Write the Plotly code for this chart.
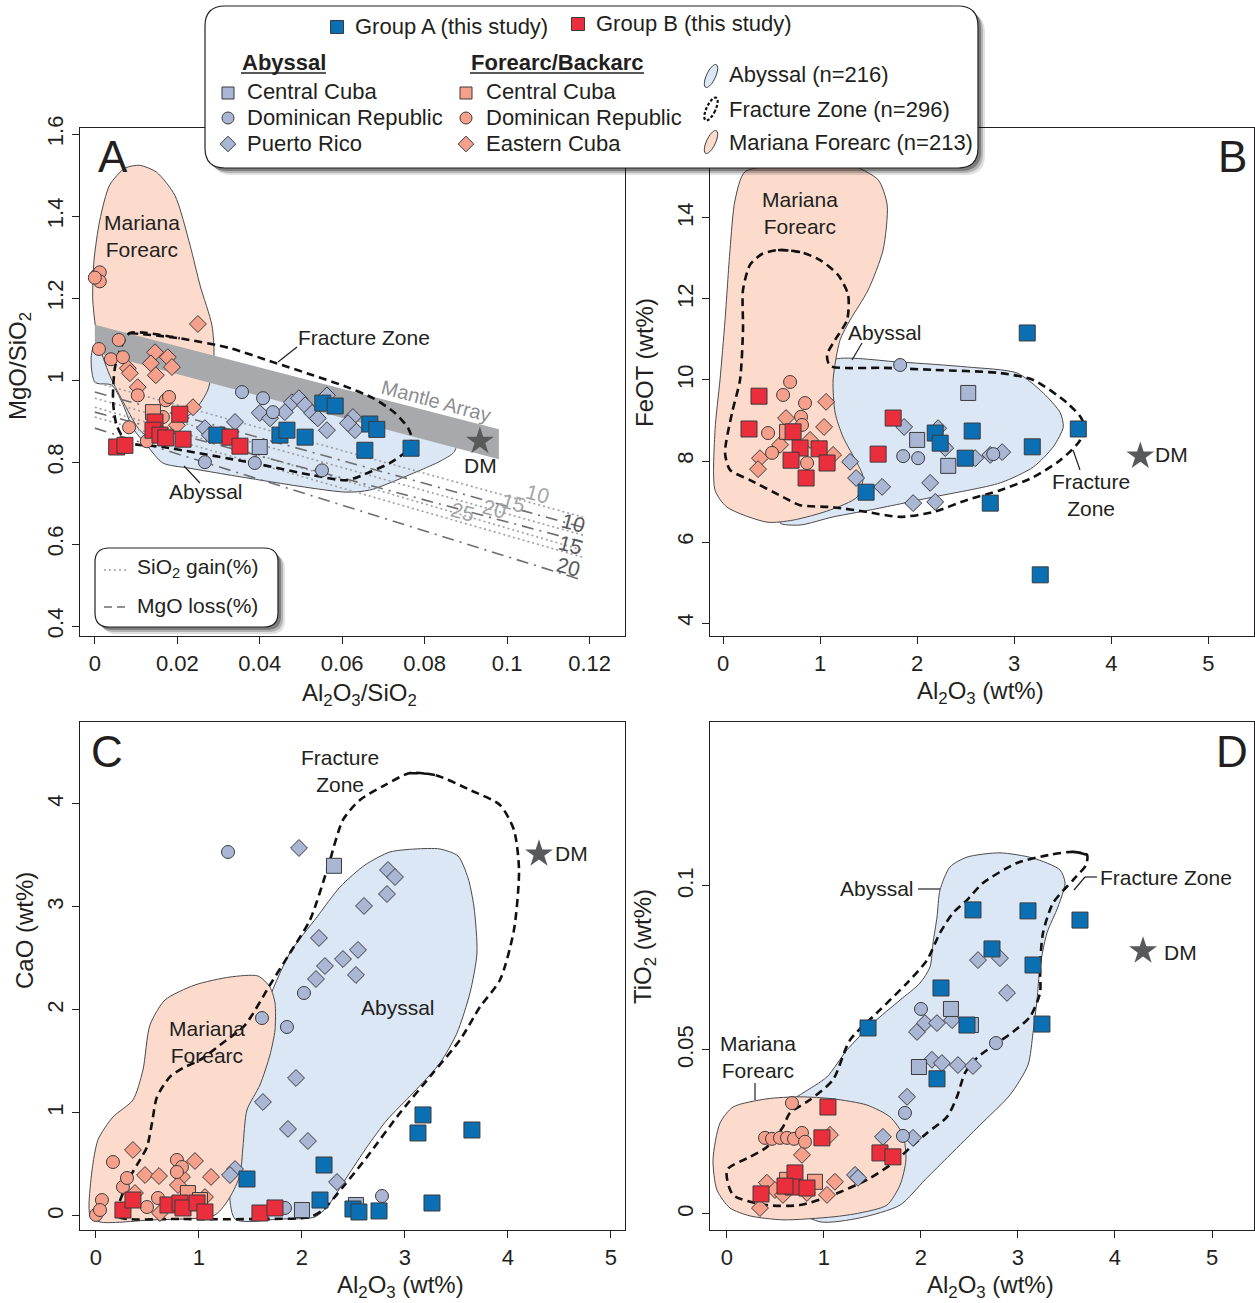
import math
import plotly.graph_objects as go

# ======================= DATA =======================
# ---- Panel A : MgO/SiO2 vs Al2O3/SiO2 ----
gaA_x = [0.0296, 0.0449, 0.0466, 0.0510, 0.0553, 0.0583, 0.0667, 0.0684, 0.0655, 0.0767]
gaA_y = [0.866, 0.866, 0.878, 0.861, 0.944, 0.937, 0.893, 0.880, 0.829, 0.834]
gbA_x = [0.0053, 0.0073, 0.0206, 0.0146, 0.0141, 0.0158, 0.0172, 0.0214, 0.0328, 0.0352]
gbA_y = [0.837, 0.841, 0.917, 0.898, 0.878, 0.866, 0.859, 0.856, 0.861, 0.839]
abccA_x = [0.0400]
abccA_y = [0.837]
abdrA_x = [0.0357, 0.0408, 0.0267, 0.0388, 0.0551, 0.0432]
abdrA_y = [0.971, 0.956, 0.800, 0.798, 0.780, 0.922]
abprA_x = [0.0267, 0.0340, 0.0400, 0.0425, 0.0461, 0.0478, 0.0495, 0.0510, 0.0527, 0.0541,
           0.0563, 0.0563, 0.0626, 0.0631, 0.0614, 0.0279]
abprA_y = [0.883, 0.898, 0.920, 0.907, 0.922, 0.946, 0.956, 0.939, 0.920, 0.907,
           0.878, 0.963, 0.910, 0.878, 0.895, 0.866]
faccA_x = [0.0141]
faccA_y = [0.922]
fadrA_x = [0.0005, 0.0012, 0.0012, 0.0000, 0.0010, 0.0058, 0.0039, 0.0068, 0.0104, 0.0172,
           0.0180, 0.0083, 0.0126, 0.0165]
fadrA_y = [1.256, 1.263, 1.241, 1.250, 1.076, 1.098, 1.051, 1.056, 0.963, 0.951,
           0.959, 0.885, 0.851, 0.910]
faecA_x = [0.0250, 0.0146, 0.0177, 0.0136, 0.0187, 0.0148, 0.0080, 0.0085, 0.0104, 0.0238, 0.0199]
faecA_y = [1.137, 1.068, 1.056, 1.041, 1.032, 1.012, 1.029, 1.017, 0.983, 0.934, 0.890]
dmA_x, dmA_y = [0.0934], [0.851]

mantle_x = [0.0, 0.098, 0.098, 0.0]
mantle_y = [1.135, 0.880, 0.807, 1.068]
trend_x = [0.0, 0.1184]
sio2_gain_y0 = [0.995, 0.956, 0.934, 0.910]
sio2_gain_y1 = [0.666, 0.622, 0.585, 0.568]
mgo_loss_y0 = [0.971, 0.922, 0.883]
mgo_loss_y1 = [0.641, 0.605, 0.512]

abyA_x = [0.0, 0.0837, 0.0879, 0.0871, 0.0837, 0.0784, 0.0667, 0.0607, 0.0231, 0.0165,
          0.0126, 0.0092, 0.0066, 0.0041, 0.0]
abyA_y = [1.085, 0.866, 0.851, 0.824, 0.802, 0.778, 0.732, 0.727, 0.785, 0.798,
          0.841, 0.883, 0.946, 0.988, 0.995]
mfA_x = [0.0109, 0.0150, 0.0194, 0.0231, 0.0255, 0.0284, 0.0289, 0.0274, 0.0243, 0.0194,
         0.0146, 0.0109, 0.0073, 0.0036, 0.0007, -0.0005, -0.0002, 0.0012, 0.0036, 0.0073]
mfA_y = [1.524, 1.507, 1.451, 1.329, 1.232, 1.134, 1.061, 0.976, 0.927, 0.890,
         0.854, 0.878, 0.939, 1.012, 1.098, 1.195, 1.293, 1.390, 1.476, 1.517]
fzA_x = [0.0085, 0.0206, 0.0328, 0.0432, 0.0529, 0.0612, 0.0675, 0.0728, 0.0760, 0.0769,
         0.0752, 0.0716, 0.0667, 0.0612, 0.0529, 0.0383, 0.0165, 0.0078, 0.0053, 0.0044,
         0.0049, 0.0066]
fzA_y = [1.115, 1.102, 1.078, 1.044, 1.012, 0.983, 0.956, 0.920, 0.883, 0.854,
         0.824, 0.798, 0.776, 0.756, 0.768, 0.798, 0.837, 0.849, 0.890, 0.951,
         1.032, 1.085]

# ---- Panel B : FeOT vs Al2O3 ----
gaB_x = [3.134, 3.660, 3.186, 2.567, 2.186, 2.237, 2.495, 1.474, 2.753, 3.268]
gaB_y = [11.16, 8.79, 8.35, 8.74, 8.69, 8.44, 8.07, 7.23, 6.96, 5.19]
gbB_x = [0.371, 0.268, 0.722, 0.794, 0.990, 0.701, 1.072, 0.856, 1.753, 1.598]
gbB_y = [9.60, 8.79, 8.72, 8.32, 8.30, 8.02, 7.95, 7.58, 9.06, 8.17]
abccB_x = [2.526, 2.000, 2.320]
abccB_y = [9.68, 8.52, 7.88]
abdrB_x = [1.825, 1.856, 2.010, 2.784]
abdrB_y = [10.37, 8.12, 8.07, 8.17]
abprB_x = [1.866, 2.216, 1.309, 1.371, 1.639, 2.134, 1.959, 2.186, 2.598, 2.876, 2.289, 2.753]
abprB_y = [8.84, 8.81, 7.98, 7.58, 7.36, 7.46, 6.96, 6.99, 8.07, 8.22, 8.32, 8.15]
faccB_x = [0.660]
faccB_y = [8.72]
fadrB_x = [0.691, 0.619, 0.845, 0.804, 0.814, 0.464, 0.505, 0.866]
fadrB_y = [9.95, 9.63, 9.43, 9.09, 8.89, 8.69, 8.20, 7.95]
faecB_x = [1.062, 1.041, 0.649, 0.588, 0.381, 0.361, 1.134, 0.897]
faecB_y = [9.46, 8.84, 9.06, 8.40, 8.07, 7.80, 8.15, 8.52]
dmB_x, dmB_y = [4.299], [8.12]

abyB_x = [1.134, 1.825, 2.515, 3.031, 3.299, 3.474, 3.505, 3.402, 3.196, 2.856,
          2.165, 1.515, 1.134, 0.794, 0.588, 0.691, 1.000, 1.103, 1.082]
abyB_y = [10.49, 10.44, 10.32, 10.17, 9.68, 9.19, 8.84, 8.35, 7.85, 7.46,
          7.11, 6.79, 6.62, 6.42, 6.47, 6.91, 7.78, 9.01, 10.0]
mfB_x = [0.227, 0.691, 1.309, 1.598, 1.691, 1.649, 1.495, 1.309, 1.206, 1.134,
         1.155, 1.237, 1.381, 1.443, 1.381, 1.103, 0.722, 0.454, 0.041, -0.082,
         -0.082, -0.031, 0.021, 0.072, 0.124]
mfB_y = [15.14, 15.31, 15.31, 14.94, 14.32, 13.21, 12.22, 11.48, 10.99, 10.0,
         9.19, 8.59, 7.95, 7.60, 7.11, 6.79, 6.54, 6.49, 6.86, 7.28,
         8.77, 10.0, 11.48, 13.21, 14.44]
fzB_x = [0.567, 0.794, 1.000, 1.186, 1.289, 1.278, 1.155, 1.072, 1.103, 1.649,
         2.165, 2.856, 3.196, 3.546, 3.701, 3.680, 3.474, 3.196, 2.856, 2.515,
         2.165, 1.825, 1.485, 1.134, 0.794, 0.619, 0.278, 0.072, 0.021, 0.093,
         0.175, 0.206, 0.206, 0.278, 0.402]
fzB_y = [13.21, 13.16, 12.96, 12.59, 12.10, 11.48, 10.99, 10.62, 10.35, 10.30,
         10.25, 10.17, 10.0, 9.43, 9.01, 8.52, 8.02, 7.60, 7.28, 7.04,
         6.74, 6.62, 6.74, 6.86, 6.91, 7.11, 7.53, 7.78, 8.20, 9.19,
         10.0, 11.23, 12.22, 12.84, 13.11]

# ---- Panel C : CaO vs Al2O3 ----
gaC_x = [1.466, 2.214, 2.175, 2.495, 2.553, 2.748, 3.126, 3.175, 3.262, 3.650]
gaC_y = [0.359, 0.495, 0.155, 0.068, 0.039, 0.049, 0.806, 0.981, 0.126, 0.835]
gbC_x = [0.262, 0.359, 0.699, 0.816, 0.845, 0.981, 1.058, 1.592, 1.738]
gbC_y = [0.058, 0.155, 0.107, 0.126, 0.078, 0.126, 0.039, 0.029, 0.078]
abccC_x = [2.311, 2.000, 2.524]
abccC_y = [3.40, 0.058, 0.107]
abdrC_x = [1.282, 2.019, 1.612, 1.854, 2.777, 1.835]
abdrC_y = [3.534, 2.165, 1.922, 1.835, 0.194, 0.078]
abprC_x = [1.971, 2.835, 2.903, 2.825, 2.602, 2.165, 2.544, 2.398, 2.223, 2.136,
           2.524, 1.942, 1.621, 1.864, 2.058, 1.350, 1.301, 2.340]
abprC_y = [3.573, 3.359, 3.291, 3.126, 3.010, 2.699, 2.583, 2.495, 2.427, 2.301,
           2.340, 1.340, 1.107, 0.845, 0.728, 0.456, 0.398, 0.330]
faccC_x = [0.893, 1.010]
faccC_y = [0.223, 0.155]
fadrC_x = [0.165, 0.058, 0.000, 0.039, 0.262, 0.301, 0.786, 0.835, 0.786, 0.495, 0.602]
fadrC_y = [0.524, 0.155, 0.010, 0.058, 0.282, 0.369, 0.544, 0.476, 0.427, 0.087, 0.175]
faecC_x = [0.359, 0.476, 0.612, 0.835, 0.961, 1.117, 0.796, 1.058, 0.621, 0.379]
faecC_y = [0.641, 0.398, 0.388, 0.379, 0.534, 0.379, 0.301, 0.184, 0.029, 0.223]
dmC_x, dmC_y = [4.301], [3.515]

abyC_x = [2.369, 2.612, 2.854, 3.097, 3.340, 3.515, 3.612, 3.670, 3.699, 3.631,
          3.505, 3.340, 3.078, 2.825, 2.631, 2.437, 2.243, 2.126, 1.786, 1.350,
          1.301, 1.447, 1.641, 1.883, 2.146]
abyC_y = [3.194, 3.408, 3.534, 3.563, 3.563, 3.495, 3.282, 3.000, 2.553, 2.165,
          1.777, 1.485, 1.194, 0.932, 0.670, 0.379, 0.087, -0.010, -0.029, -0.029,
          0.544, 1.126, 2.000, 2.553, 2.903]
mfC_x = [-0.058, -0.049, 0.019, 0.165, 0.359, 0.456, 0.524, 0.670, 0.961, 1.301,
         1.573, 1.689, 1.738, 1.738, 1.689, 1.592, 1.466, 1.427, 1.398, 1.301,
         1.155, 0.524, 0.039]
mfC_y = [0.010, 0.350, 0.738, 0.961, 1.126, 1.417, 1.854, 2.097, 2.243, 2.320,
         2.330, 2.223, 2.068, 1.806, 1.563, 1.272, 1.029, 0.670, 0.398, 0.184,
         0.010, -0.039, -0.058]
fzC_x = [3.049, 3.291, 3.631, 3.922, 4.058, 4.107, 4.058, 3.922, 3.728, 3.534,
         3.272, 2.951, 2.631, 2.398, 2.204, 2.078, 1.592, 0.816, 0.204, 0.262,
         0.330, 0.427, 0.495, 0.544, 0.592, 0.718, 0.845, 1.010, 1.204, 1.447,
         1.689, 1.883, 2.078, 2.252, 2.398, 2.563, 2.806]
fzC_y = [4.301, 4.282, 4.136, 3.990, 3.748, 3.359, 2.777, 2.291, 2.029, 1.709,
         1.388, 1.000, 0.573, 0.282, 0.058, -0.010, -0.029, -0.029, 0.000, 0.223,
         0.379, 0.544, 0.670, 0.903, 1.155, 1.350, 1.437, 1.515, 1.660, 1.854,
         2.243, 2.553, 2.874, 3.388, 3.845, 4.039, 4.184]

# ---- Panel D : TiO2 vs Al2O3 ----
gaD_x = [2.536, 3.103, 3.639, 2.732, 3.155, 2.206, 1.454, 2.474, 3.247, 2.165]
gaD_y = [0.0927, 0.0924, 0.0896, 0.0808, 0.0759, 0.0689, 0.0567, 0.0576, 0.0579, 0.0412]
gbD_x = [1.041, 0.979, 1.577, 1.711, 0.701, 0.680, 0.825, 0.351, 0.598]
gbD_y = [0.0326, 0.0232, 0.0186, 0.0174, 0.0125, 0.0082, 0.0079, 0.0061, 0.0085]
abccD_x = [2.309, 1.979, 2.515]
abccD_y = [0.0625, 0.0448, 0.0576]
abdrD_x = [2.000, 2.773, 1.835, 1.814]
abdrD_y = [0.0625, 0.0521, 0.0308, 0.0238]
abprD_x = [2.588, 2.814, 2.887, 1.959, 2.041, 2.165, 2.320, 2.113, 2.216, 2.381,
           2.536, 1.856, 1.608, 1.918, 1.320, 1.351]
abprD_y = [0.0774, 0.0780, 0.0674, 0.0555, 0.0582, 0.0582, 0.0591, 0.0470, 0.0460, 0.0454,
           0.0451, 0.0357, 0.0235, 0.0232, 0.0119, 0.0110]
faccD_x = [0.907, 0.619]
faccD_y = [0.0098, 0.0104]
fadrD_x = [0.670, 0.392, 0.464, 0.546, 0.619, 0.691, 0.773, 0.804]
fadrD_y = [0.0338, 0.0232, 0.0229, 0.0232, 0.0232, 0.0229, 0.0247, 0.0220]
faecD_x = [1.062, 0.773, 0.412, 0.495, 0.577, 0.340, 0.825, 1.031, 1.113]
faecD_y = [0.0241, 0.0180, 0.0095, 0.0073, 0.0058, 0.0018, 0.0064, 0.0058, 0.0098]
dmD_x, dmD_y = [4.289], [0.0802]

abyD_x = [0.680, 0.784, 1.031, 1.237, 1.505, 1.784, 1.990, 2.093, 2.124, 2.165,
          2.196, 2.299, 2.474, 2.814, 3.155, 3.433, 3.485, 3.412, 3.299, 3.227,
          3.196, 3.155, 3.103, 2.918, 2.608, 2.299, 2.041, 1.784, 1.371, 0.959,
          0.546, 0.340]
abyD_y = [0.0348, 0.0369, 0.0418, 0.0500, 0.0582, 0.0652, 0.0704, 0.0753, 0.0826, 0.0905,
          0.0988, 0.1058, 0.1088, 0.1101, 0.1085, 0.1049, 0.1009, 0.0936, 0.0857, 0.0753,
          0.0652, 0.0552, 0.0454, 0.0363, 0.0271, 0.0180, 0.0104, 0.0027, -0.0012, -0.0024,
          0.0043, 0.0195]
mfD_x = [-0.144, -0.072, 0.062, 0.412, 0.753, 1.093, 1.443, 1.680, 1.814, 1.845,
         1.784, 1.649, 1.371, 1.093, 0.577, 0.237, 0.031, -0.103]
mfD_y = [0.0165, 0.0277, 0.0326, 0.0351, 0.0357, 0.0351, 0.0332, 0.0296, 0.0241, 0.0165,
         0.0088, 0.0027, 0.0003, -0.0009, -0.0018, -0.0006, 0.0018, 0.0073]
fzD_x = [3.567, 3.711, 3.701, 3.567, 3.361, 3.258, 3.227, 3.227, 3.124, 2.948,
         2.784, 2.577, 2.454, 2.371, 2.268, 2.062, 1.918, 1.711, 1.443, 1.093,
         0.753, 0.412, 0.062, 0.000, 0.237, 0.412, 0.577, 0.649, 0.856, 1.093,
         1.268, 1.577, 1.856, 2.062, 2.196, 2.330, 2.474, 2.639, 2.990, 3.330]
fzD_y = [0.1104, 0.1095, 0.1064, 0.1018, 0.0948, 0.0857, 0.0753, 0.0674, 0.0601, 0.0555,
         0.0521, 0.0476, 0.0430, 0.0357, 0.0296, 0.0247, 0.0210, 0.0155, 0.0104, 0.0058,
         0.0027, 0.0027, 0.0058, 0.0134, 0.0174, 0.0204, 0.0265, 0.0308, 0.0348, 0.0409,
         0.0530, 0.0622, 0.0704, 0.0774, 0.0857, 0.0918, 0.0957, 0.1009, 0.1070, 0.1095]

# tick labels
tickA_x = [0, 0.02, 0.04, 0.06, 0.08, 0.1, 0.12]
tickA_xt = ["0", "0.02", "0.04", "0.06", "0.08", "0.1", "0.12"]
tickA_y = [0.4, 0.6, 0.8, 1.0, 1.2, 1.4, 1.6]
tickA_yt = ["0.4", "0.6", "0.8", "1", "1.2", "1.4", "1.6"]
tickB_y = [4, 6, 8, 10, 12, 14]
tickC_y = [0, 1, 2, 3, 4]
tickD_y = [0, 0.05, 0.1]
tickD_yt = ["0", "0.05", "0.1"]
tick_al = [0, 1, 2, 3, 4, 5]

# ======================= STYLE =======================
W, H = 1255, 1303
FONT = "Liberation Sans, Arial, Helvetica, sans-serif"
INK = "#231f20"
C_GA = "#0b6fb4"
C_GB = "#ea2e3c"
C_AB = "#a9b6d4"
C_FA = "#f6a08b"
F_AB = "#dce7f5"
F_MF = "#fcdbcd"
EDGE = "#3b3b3d"
TICK_FS = 22
LAB_FS = 21
LEG_FS = 22
TITLE_FS = 24

fig = go.Figure()
AX = {"A": ("x", "y"), "B": ("x2", "y2"), "C": ("x3", "y3"), "D": ("x4", "y4")}


def field(p, xs, ys, fill):
    xa, ya = AX[p]
    fig.add_trace(go.Scatter(x=xs + xs[:1], y=ys + ys[:1], mode="lines", fill="toself",
                             fillcolor=fill, line=dict(color="#4a4a4c", width=1, shape="spline", smoothing=0.7),
                             xaxis=xa, yaxis=ya, hoverinfo="skip", showlegend=False))


def fz(p, xs, ys):
    xa, ya = AX[p]
    fig.add_trace(go.Scatter(x=xs + xs[:2], y=ys + ys[:2], mode="lines",
                             line=dict(color="#111111", width=2.6, dash="8px,5px", shape="spline", smoothing=0.7),
                             xaxis=xa, yaxis=ya, hoverinfo="skip", showlegend=False))


def pts(p, xs, ys, sym, size, color):
    xa, ya = AX[p]
    fig.add_trace(go.Scatter(x=xs, y=ys, mode="markers",
                             marker=dict(symbol=sym, size=size, color=color, line=dict(color=EDGE, width=1)),
                             xaxis=xa, yaxis=ya, showlegend=False))


def star(p, xs, ys):
    xa, ya = AX[p]
    fig.add_trace(go.Scatter(x=xs, y=ys, mode="markers",
                             marker=dict(symbol="star", size=21, color="#58595b", line=dict(width=0)),
                             xaxis=xa, yaxis=ya, showlegend=False))


# ---- fields ----
field("A", abyA_x, abyA_y, F_AB)
field("A", mfA_x, mfA_y, F_MF)
fig.add_trace(go.Scatter(x=mantle_x + mantle_x[:1], y=mantle_y + mantle_y[:1], mode="lines", fill="toself",
                         fillcolor="#a7a9ac", line=dict(width=0, color="#a7a9ac"),
                         xaxis="x", yaxis="y", hoverinfo="skip", showlegend=False))
for y0, y1 in zip(sio2_gain_y0, sio2_gain_y1):
    fig.add_trace(go.Scatter(x=trend_x, y=[y0, y1], mode="lines",
                             line=dict(color="#9c9ea1", width=1.6, dash="2px,3px"),
                             xaxis="x", yaxis="y", hoverinfo="skip", showlegend=False))
for y0, y1 in zip(mgo_loss_y0, mgo_loss_y1):
    fig.add_trace(go.Scatter(x=trend_x, y=[y0, y1], mode="lines",
                             line=dict(color="#6d6e71", width=1.6, dash="12px,6px,2px,6px"),
                             xaxis="x", yaxis="y", hoverinfo="skip", showlegend=False))
fz("A", fzA_x, fzA_y)

field("B", abyB_x, abyB_y, F_AB)
field("B", mfB_x, mfB_y, F_MF)
fz("B", fzB_x, fzB_y)

field("C", abyC_x, abyC_y, F_AB)
field("C", mfC_x, mfC_y, F_MF)
fz("C", fzC_x, fzC_y)

field("D", abyD_x, abyD_y, F_AB)
field("D", mfD_x, mfD_y, F_MF)
fz("D", fzD_x, fzD_y)

# ---- points ----
for p, d in [("A", (abccA_x, abccA_y, abdrA_x, abdrA_y, abprA_x, abprA_y, faccA_x, faccA_y, fadrA_x, fadrA_y,
                    faecA_x, faecA_y, gaA_x, gaA_y, gbA_x, gbA_y, dmA_x, dmA_y)),
             ("B", (abccB_x, abccB_y, abdrB_x, abdrB_y, abprB_x, abprB_y, faccB_x, faccB_y, fadrB_x, fadrB_y,
                    faecB_x, faecB_y, gaB_x, gaB_y, gbB_x, gbB_y, dmB_x, dmB_y)),
             ("C", (abccC_x, abccC_y, abdrC_x, abdrC_y, abprC_x, abprC_y, faccC_x, faccC_y, fadrC_x, fadrC_y,
                    faecC_x, faecC_y, gaC_x, gaC_y, gbC_x, gbC_y, dmC_x, dmC_y)),
             ("D", (abccD_x, abccD_y, abdrD_x, abdrD_y, abprD_x, abprD_y, faccD_x, faccD_y, fadrD_x, fadrD_y,
                    faecD_x, faecD_y, gaD_x, gaD_y, gbD_x, gbD_y, dmD_x, dmD_y))]:
    pts(p, d[4], d[5], "diamond", 13, C_AB)
    pts(p, d[2], d[3], "circle", 13, C_AB)
    pts(p, d[0], d[1], "square", 15, C_AB)
    pts(p, d[10], d[11], "diamond", 13, C_FA)
    pts(p, d[8], d[9], "circle", 13, C_FA)
    pts(p, d[6], d[7], "square", 15, C_FA)
    pts(p, d[12], d[13], "square", 16, C_GA)
    pts(p, d[14], d[15], "square", 16, C_GB)
    star(p, d[16], d[17])

# ======================= AXES =======================
DX_L = [80 / W, 625 / W]
DX_R = [710 / W, 1254 / W]
DY_T = [1 - 636 / H, 1 - 128 / H]
DY_B = [1 - 1230 / H, 1 - 722 / H]


def ax(domain, rng, anchor, tv, tt=None, angle=0):
    d = dict(domain=domain, range=rng, anchor=anchor, showline=True, linecolor=INK, linewidth=1.3,
             mirror=True, ticks="outside", ticklen=7, tickwidth=1.3, tickcolor=INK, showgrid=False,
             zeroline=False, tickvals=tv, ticktext=tt if tt else [str(v) for v in tv],
             tickfont=dict(size=TICK_FS, family=FONT, color=INK), tickangle=angle, fixedrange=True,
             automargin=False)
    return d


fig.update_layout(
    template="none",
    width=W, height=H, autosize=False, margin=dict(l=0, r=0, t=0, b=0, pad=0),
    paper_bgcolor="white", plot_bgcolor="white", showlegend=False,
    font=dict(family=FONT, color=INK),
    xaxis=ax(DX_L, [-0.0036, 0.1286], "y", tickA_x, tickA_xt),
    yaxis=ax(DY_T, [0.376, 1.615], "x", tickA_y, tickA_yt, -90),
    xaxis2=ax(DX_R, [-0.134, 5.47], "y2", tick_al),
    yaxis2=ax(DY_T, [3.68, 16.22], "x2", tickB_y, None, -90),
    xaxis3=ax(DX_L, [-0.155, 5.136], "y3", tick_al),
    yaxis3=ax(DY_B, [-0.136, 4.796], "x3", tickC_y, None, -90),
    xaxis4=ax(DX_R, [-0.175, 5.433], "y4", tick_al),
    yaxis4=ax(DY_B, [-0.0049, 0.15], "x4", tickD_y, tickD_yt, -90),
)

# ======================= ANNOTATIONS / SHAPES =======================
anns = []
shapes = []


def P(x, y):
    return x / W, 1 - y / H


def txt(s, x, y, size=LAB_FS, color=INK, angle=0, xanchor="center", yanchor="middle"):
    X, Y = P(x, y)
    anns.append(dict(text=s, x=X, y=Y, xref="paper", yref="paper", showarrow=False,
                     font=dict(size=size, family=FONT, color=color), textangle=angle,
                     xanchor=xanchor, yanchor=yanchor))


def seg(x0, y0, x1, y1, color=INK, width=1.2, dash="solid"):
    X0, Y0 = P(x0, y0)
    X1, Y1 = P(x1, y1)
    shapes.append(dict(type="line", xref="paper", yref="paper", x0=X0, y0=Y0, x1=X1, y1=Y1,
                       line=dict(color=color, width=width, dash=dash), layer="above"))


def rrect_path(x0, y0, x1, y1, r):
    def q(x, y):
        X, Y = P(x, y)
        return f"{X:.5f},{Y:.5f}"
    return (f"M {q(x0 + r, y0)} L {q(x1 - r, y0)} Q {q(x1, y0)} {q(x1, y0 + r)} "
            f"L {q(x1, y1 - r)} Q {q(x1, y1)} {q(x1 - r, y1)} L {q(x0 + r, y1)} "
            f"Q {q(x0, y1)} {q(x0, y1 - r)} L {q(x0, y0 + r)} Q {q(x0, y0)} {q(x0 + r, y0)} Z")


def box(x0, y0, x1, y1, r):
    for off, op in [(7, 0.12), (5, 0.2), (3, 0.3)]:
        shapes.append(dict(type="path", xref="paper", yref="paper",
                           path=rrect_path(x0 + off, y0 + off, x1 + off, y1 + off, r),
                           fillcolor=f"rgba(0,0,0,{op})", line=dict(width=0), layer="above"))
    shapes.append(dict(type="path", xref="paper", yref="paper", path=rrect_path(x0, y0, x1, y1, r),
                       fillcolor="white", line=dict(color=INK, width=1.2), layer="above"))


def msym(kind, cx, cy, s, color):
    if kind == "square":
        X0, Y0 = P(cx - s / 2, cy + s / 2)
        X1, Y1 = P(cx + s / 2, cy - s / 2)
        shapes.append(dict(type="rect", xref="paper", yref="paper", x0=X0, y0=Y0, x1=X1, y1=Y1,
                           fillcolor=color, line=dict(color=EDGE, width=1), layer="above"))
    elif kind == "circle":
        X0, Y0 = P(cx - s / 2, cy + s / 2)
        X1, Y1 = P(cx + s / 2, cy - s / 2)
        shapes.append(dict(type="circle", xref="paper", yref="paper", x0=X0, y0=Y0, x1=X1, y1=Y1,
                           fillcolor=color, line=dict(color=EDGE, width=1), layer="above"))
    else:
        h = s * 0.65
        pts_ = [P(cx, cy - h), P(cx + h, cy), P(cx, cy + h), P(cx - h, cy)]
        path = "M " + " L ".join(f"{a:.5f},{b:.5f}" for a, b in pts_) + " Z"
        shapes.append(dict(type="path", xref="paper", yref="paper", path=path,
                           fillcolor=color, line=dict(color=EDGE, width=1), layer="above"))


def blob(cx, cy, fill, dash=False):
    a, b, th = 4.5, 12.5, math.radians(25)
    ps = []
    for k in range(36):
        t = 2 * math.pi * k / 36
        x, y = a * math.cos(t), b * math.sin(t)
        xr = x * math.cos(th) - y * math.sin(th)
        yr = x * math.sin(th) + y * math.cos(th)
        ps.append(P(cx + xr, cy + yr))
    path = "M " + " L ".join(f"{u:.5f},{v:.5f}" for u, v in ps) + " Z"
    shapes.append(dict(type="path", xref="paper", yref="paper", path=path,
                       fillcolor=fill if fill else "rgba(0,0,0,0)",
                       line=dict(color="#111111" if dash else "#3b3b3d", width=2.2 if dash else 1,
                                 dash="3px,2px" if dash else "solid"), layer="above"))


# ---- panel A texts ----
txt("A", 113, 156, size=44)
txt("Mariana<br>Forearc", 142, 236)
txt("Fracture Zone", 364, 337)
seg(297, 347, 278, 362)
txt("Abyssal", 206, 492)
seg(184, 466, 200, 483)
txt("Mantle Array", 436, 401, size=20, color="#8c8e91", angle=15)
txt("DM", 480, 465, size=21)
for s, x, y in [("10", 537, 494), ("15", 513, 502), ("20", 494, 508), ("25", 462, 512)]:
    txt(s, x, y, size=21, color="#a3a5a8", angle=15)
for s, x, y in [("10", 573, 522), ("15", 570, 544), ("20", 568, 566)]:
    txt(s, x, y, size=21, color="#58595b", angle=15)
txt("MgO/SiO<sub>2</sub>", 20, 366, size=TITLE_FS, angle=-90)
txt("Al<sub>2</sub>O<sub>3</sub>/SiO<sub>2</sub>", 359, 694, size=TITLE_FS)

# ---- panel B texts ----
txt("B", 1232, 156, size=44)
txt("Mariana<br>Forearc", 800, 213)
txt("Abyssal", 885, 333)
seg(862, 343, 852, 360)
txt("Fracture<br>Zone", 1091, 495)
seg(1073, 450, 1080, 470)
txt("DM", 1171, 454, size=21)
txt("FeOT (wt%)", 644, 363, size=TITLE_FS, angle=-90)
txt("Al<sub>2</sub>O<sub>3</sub> (wt%)", 980, 692, size=TITLE_FS)

# ---- panel C texts ----
txt("C", 107, 751, size=44)
txt("Fracture<br>Zone", 340, 771)
txt("Abyssal", 398, 1007)
txt("Mariana<br>Forearc", 207, 1042)
txt("DM", 571, 853, size=21)
txt("CaO (wt%)", 24, 931, size=TITLE_FS, angle=-90)
txt("Al<sub>2</sub>O<sub>3</sub> (wt%)", 400, 1286, size=TITLE_FS)

# ---- panel D texts ----
txt("D", 1232, 751, size=44)
txt("Abyssal", 877, 888)
seg(918, 889, 940, 889)
txt("Fracture Zone", 1166, 877)
seg(1074, 890, 1085, 877)
seg(1085, 877, 1097, 877)
txt("Mariana<br>Forearc", 758, 1057)
seg(755, 1083, 755, 1100)
txt("DM", 1180, 952, size=21)
txt("TiO<sub>2</sub> (wt%)", 644, 947, size=TITLE_FS, angle=-90)
txt("Al<sub>2</sub>O<sub>3</sub> (wt%)", 990, 1286, size=TITLE_FS)

# ---- inset key in panel A ----
box(95, 548, 278, 627, 14)
seg(104, 570, 128, 570, color="#9c9ea1", width=1.6, dash="2px,3px")
seg(104, 607, 128, 607, color="#6d6e71", width=1.6, dash="8px,5px")
txt("SiO<sub>2</sub> gain(%)", 135, 568, size=21, xanchor="left")
txt("MgO loss(%)", 135, 606, size=21, xanchor="left")

# ---- main legend ----
box(205, 6, 978, 168, 20)
msym("square", 337, 27, 13, C_GA)
txt("Group A (this study)", 353, 26, size=LEG_FS, xanchor="left")
msym("square", 578, 24, 13, C_GB)
txt("Group B (this study)", 594, 24, size=LEG_FS, xanchor="left")
txt("<b>Abyssal</b>", 240, 62, size=LEG_FS, xanchor="left")
seg(241, 73, 326, 73, width=1.6)
txt("<b>Forearc/Backarc</b>", 469, 62, size=LEG_FS, xanchor="left")
seg(470, 73, 644, 73, width=1.6)
msym("square", 228, 93, 12, C_AB)
msym("circle", 228, 118, 12, C_AB)
msym("diamond", 228, 144, 12, C_AB)
msym("square", 466, 93, 12, C_FA)
msym("circle", 466, 118, 12, C_FA)
msym("diamond", 466, 144, 12, C_FA)
for s, y in [("Central Cuba", 92), ("Dominican Republic", 118), ("Puerto Rico", 144)]:
    txt(s, 245, y, size=LEG_FS, xanchor="left")
for s, y in [("Central Cuba", 92), ("Dominican Republic", 118), ("Eastern Cuba", 144)]:
    txt(s, 484, y, size=LEG_FS, xanchor="left")
blob(711, 76, F_AB)
blob(711, 109, None, dash=True)
blob(711, 142, F_MF)
txt("Abyssal (n=216)", 727, 75, size=LEG_FS, xanchor="left")
txt("Fracture Zone (n=296)", 727, 109, size=LEG_FS, xanchor="left")
txt("Mariana Forearc (n=213)", 727, 142, size=LEG_FS, xanchor="left")

fig.update_layout(annotations=anns, shapes=shapes)
fig.write_html("out.html")
